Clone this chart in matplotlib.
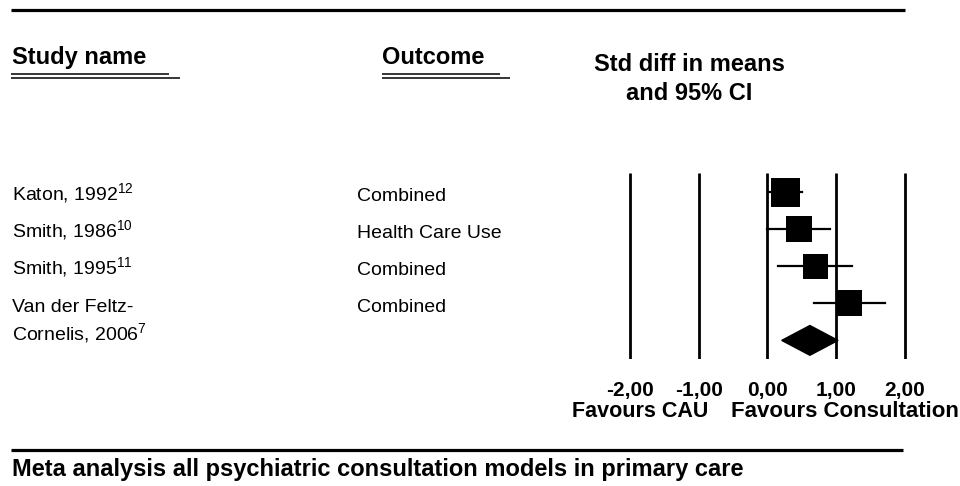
import matplotlib
matplotlib.use("Agg")
import matplotlib.pyplot as plt
import matplotlib.transforms as mtransforms
from matplotlib.patches import Polygon

plt.rcParams['font.family'] = ['Liberation Sans', 'DejaVu Sans']
plt.rcParams['mathtext.fontset'] = 'custom'
plt.rcParams['mathtext.rm'] = 'Liberation Sans'

# ---- data ----
studies = ["Katon, 1992$^{\\mathregular{12}}$",
           "Smith, 1986$^{\\mathregular{10}}$",
           "Smith, 1995$^{\\mathregular{11}}$",
           "Van der Feltz-\nCornelis, 2006$^{\\mathregular{7}}$"]
outcomes = ["Combined", "Health Care Use", "Combined", "Combined"]
effect = [0.26, 0.46, 0.70, 1.19]
lower = [0.02, 0.00, 0.16, 0.68]
upper = [0.51, 0.91, 1.24, 1.72]
weights = [29, 26, 25, 27]          # relative study weights (box size)
summary_effect = 0.62
summary_lower = 0.21
summary_upper = 1.03
tick_values = [-2, -1, 0, 1, 2]
tick_labels = ["-2,00", "-1,00", "0,00", "1,00", "2,00"]

W, H = 960, 486
fig = plt.figure(figsize=(W / 100, H / 100), dpi=100)

# background axes in pixel coordinates for headings and rules
bg = fig.add_axes([0, 0, 1, 1])
bg.set_xlim(0, W)
bg.set_ylim(H, 0)
bg.axis('off')

# forest axes
px_left, px_right = 600, 940
zero_px, unit_px = 767.3, 68.7
py_top, py_bot = 173, 359
ax = fig.add_axes([px_left / W, 1 - py_bot / H, (px_right - px_left) / W, (py_bot - py_top) / H])
ax.set_xlim((px_left - zero_px) / unit_px, (px_right - zero_px) / unit_px)
n = len(effect)
ax.set_ylim(n + 0.5, -0.5)
ax.axis('off')
ax.patch.set_alpha(0)

for v in tick_values:
    ax.plot([v, v], [-0.5, n + 0.5], color='black', lw=2.0, solid_capstyle='butt')

for i in range(n):
    ax.plot([lower[i], upper[i]], [i, i], color='black', lw=1.6)
    ax.plot(effect[i], i, marker='s', color='black', markersize=weights[i] * 0.72,
            markeredgewidth=0)

dh = 0.4
ax.add_patch(Polygon([[summary_lower, n], [summary_effect, n - dh],
                      [summary_upper, n], [summary_effect, n + dh]],
                     closed=True, facecolor='black', edgecolor='black', lw=1))

# row texts: x in pixels, y in row units
tr = mtransforms.blended_transform_factory(bg.transData, ax.transData)
for i in range(n):
    lines = studies[i].split("\n")
    for k, line in enumerate(lines):
        ax.text(12, i + 0.24 + k * 0.775, line, transform=tr, fontsize=14,
                ha='left', va='baseline')
    ax.text(357, i + 0.24, outcomes[i], transform=tr, fontsize=14,
            ha='left', va='baseline')

# tick labels
trx = mtransforms.blended_transform_factory(ax.transData, bg.transData)
for v, lab in zip(tick_values, tick_labels):
    ax.text(v, 396, lab, transform=trx, fontsize=15, fontweight='bold',
            ha='center', va='baseline')
bg.text(640, 416.5, "Favours CAU", fontsize=15.5, fontweight='bold',
        ha='center', va='baseline')
bg.text(959, 416.5, "Favours Consultation", fontsize=16, fontweight='bold',
        ha='right', va='baseline')

# headings
bg.plot([11, 905], [10.5, 10.5], color='black', lw=2.3, solid_capstyle='butt')
bg.text(12, 64, "Study name", fontsize=17, fontweight='bold', ha='left', va='baseline')
bg.plot([11, 169], [74, 74], color='black', lw=1.1, solid_capstyle='butt')
bg.plot([11, 180], [78.5, 78.5], color='black', lw=1.1, solid_capstyle='butt')
bg.text(382, 64, "Outcome", fontsize=17, fontweight='bold', ha='left', va='baseline')
bg.plot([382, 500], [74, 74], color='black', lw=1.1, solid_capstyle='butt')
bg.plot([382, 510], [78.5, 78.5], color='black', lw=1.1, solid_capstyle='butt')
bg.text(689, 71, "Std diff in means", fontsize=17, fontweight='bold', ha='center', va='baseline')
bg.text(689, 100, "and 95% CI", fontsize=17, fontweight='bold', ha='center', va='baseline')

bg.plot([11, 903], [450, 450], color='black', lw=2.3, solid_capstyle='butt')
bg.text(12, 476, "Meta analysis all psychiatric consultation models in primary care",
        fontsize=17, fontweight='bold', ha='left', va='baseline')

fig.savefig("out.png", dpi=100)
